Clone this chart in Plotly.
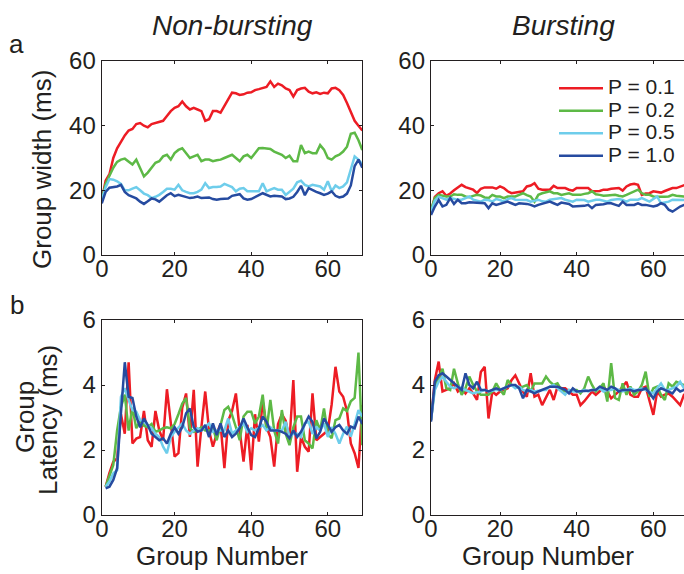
import plotly.graph_objects as go

# ---------------- data ----------------
series_names = ["P = 0.1", "P = 0.2", "P = 0.5", "P = 1.0"]
series_colors = ["#ED1C24", "#5DB946", "#6ECDEB", "#264BA0"]

# Group width, non-bursting (group numbers 1..69)
width_nb_p01 = [17, 23, 25, 30, 33, 35, 37, 38.5, 39, 40.5,
                40.8, 40, 39.5, 40.5, 40.8, 41, 41.5, 43, 44.5, 45.5,
                46, 47.5, 46, 45, 45.5, 45, 44.5, 41.5, 42, 44.5,
                44.5, 44, 46, 48, 50.2, 50, 49.5, 49.7, 50.2, 50.3,
                51, 51.3, 51.6, 52, 53.7, 52, 53, 52.5, 51.5, 51,
                49, 51, 51.5, 51.7, 50.5, 50, 50.3, 49.8, 50.2, 50,
                51.5, 51.7, 51, 49.5, 47, 44, 41.5, 40, 38.5]
width_nb_p02 = [17, 22, 24.5, 27, 28.8, 29.5, 29.8, 29, 28, 29.5,
                27, 24.3, 25.5, 27, 28.5, 29, 30.5, 31, 29.5, 31.5,
                32.5, 33, 31.5, 30, 30.5, 31, 29, 29.5, 29.5, 29,
                29.3, 29.5, 30, 30.5, 31, 30, 29, 30.5, 31, 30,
                31.5, 33, 33.1, 33, 32.8, 32, 31.5, 31, 30, 30.7,
                29, 29, 34, 31.5, 32, 31.5, 31.5, 34, 32.6, 30,
                29.5, 30.5, 31, 32, 33.5, 37.5, 37.8, 35.5, 32.5]
width_nb_p05 = [17, 21, 23.5, 23.3, 22.8, 22, 20, 20, 20.5, 21,
                20, 19, 18.5, 17.6, 18, 18.6, 19.5, 20.5, 20.5, 20.2,
                21.7, 20, 19.5, 19.1, 19.1, 19.5, 20.2, 22.2, 20.7, 21,
                21, 21.2, 22, 21.5, 21, 19.7, 20.5, 20.7, 19.7, 19.7,
                19.7, 19.7, 22.2, 19.7, 20.2, 20.7, 20.2, 20.2, 18.6, 19.5,
                20.5, 22.5, 23, 21.7, 21.2, 21.7, 21.5, 21.2, 20.2, 22.8,
                19.7, 21.5, 20.7, 21.2, 22.5, 26.5, 30.5, 29.5, 28]
width_nb_p10 = [16, 19.5, 20.8, 21, 21.2, 21.7, 19.5, 18.5, 18, 17.5,
                16.5, 15.8, 16.6, 17.5, 17.2, 16.5, 17.5, 18.5, 19.1, 18.2,
                18.6, 18.3, 18.1, 17.6, 17.8, 18.1, 17.6, 17.7, 17.8, 17.3,
                17.1, 17.3, 17.3, 17.5, 18.3, 18.6, 18.8, 17.5, 17.1, 17.3,
                18, 18.5, 19.1, 18.5, 18.1, 18.3, 18.2, 18.1, 17.3, 17.5,
                18, 19.5, 21.4, 18.5, 20.7, 20, 19.5, 19.1, 18.6, 19,
                19.7, 18.3, 17.8, 18.1, 19, 21.5, 27.5, 29.5, 27]

# Group width, bursting (group numbers 2..69)
width_b_p01 = [13.4, 18, 19.1, 19.7, 18.3, 19, 20, 21, 21.7, 21,
               20.5, 20.2, 19.2, 20.5, 20.9, 20.9, 20.9, 20.5, 21.2, 20.7,
               19.7, 19.1, 19.3, 19.3, 19.7, 21.2, 21.5, 22.2, 20.5, 20.2,
               20.2, 20.2, 21.4, 20.7, 20.7, 20.7, 20.2, 19.9, 20.7, 20.7,
               20.7, 20.7, 19.7, 19.7, 19.8, 20.2, 20.2, 20.5, 20.7, 20.7,
               19.9, 21.2, 21.8, 22, 21.7, 18.6, 19, 19.1, 19.7, 19.5,
               19.3, 19.8, 20.2, 20.7, 20.7, 21.2, 21.7, 22]
width_b_p02 = [14, 17.6, 18.6, 18.3, 18.1, 18.1, 18.8, 18.6, 18.6, 18.1,
               17.9, 18.3, 18.6, 18.4, 17.8, 17.6, 18.6, 18.1, 18.1, 17.6,
               18.1, 18.1, 18.1, 18.6, 19.1, 18.5, 18.1, 16.5, 18.6, 19.1,
               19.4, 19.7, 19.1, 19.1, 18.6, 18.8, 19.1, 18.6, 18.6, 18.6,
               18.9, 19.1, 19.7, 18.8, 18.6, 18.3, 18.4, 18.6, 18.6, 18.3,
               18.1, 18.6, 19.1, 19.6, 20.2, 19.1, 18.6, 18.6, 18.1, 18,
               17.9, 18, 18.1, 18.6, 18.3, 18.1, 18.1, 18]
width_b_p05 = [13.4, 16.8, 18, 17.5, 17.1, 17.6, 17.3, 17.1, 17.1, 17.5,
               18.1, 17.1, 16.8, 16.5, 17.1, 17, 16.5, 17.3, 17, 16.5,
               17.3, 17.6, 17.1, 17.1, 17.1, 17, 16.5, 16.8, 17.1, 16.6,
               16.5, 17.1, 17.3, 17.5, 17.6, 17.1, 16.8, 16.5, 17.1, 17.1,
               17, 16.5, 16.8, 17.1, 17.1, 16.8, 16.5, 17, 17.1, 17.3,
               17, 16.5, 17.1, 17.1, 17.1, 17.6, 17.1, 16.5, 17.3, 18.1,
               16, 16.3, 16.5, 17.1, 17.1, 17.1, 17.2, 17]
width_b_p10 = [12.4, 15, 17, 15, 15.5, 17.6, 15.8, 17.1, 16, 16,
               16.3, 16.2, 16, 16, 16, 14.5, 16, 15.5, 15.8, 16,
               16.5, 16, 15.5, 16, 16, 15.8, 15.5, 15, 15.5, 15.8,
               16, 16.5, 16, 15.5, 16.2, 16, 15.8, 15, 15, 15,
               15.2, 15.5, 14.5, 15.5, 15.5, 15.7, 16, 16, 15.6, 15.2,
               16.5, 15.5, 15.5, 15.5, 16, 15.5, 15.5, 15.2, 15, 15.3,
               16, 15.5, 14, 13.4, 14.2, 15, 15.5, 15.5]

# Group latency, non-bursting (group numbers 2..69)
lat_nb_p01 = [0.87, 1.3, 1.64, 1.74, 3.1, 2.5, 4.7, 2.2, 2.35, 2.4,
              3.2, 2.3, 2.1, 3.2, 2.6, 2.3, 3.87, 2.8, 1.8, 1.9,
              3.3, 3.74, 2.4, 3.85, 1.49, 2.7, 3.8, 2.6, 2.1, 2.5,
              2.8, 1.44, 2.9, 3.2, 3.74, 2.6, 1.64, 2.77, 1.38, 3.1,
              2.26, 3.5, 2.7, 2.4, 1.49, 2.8, 3.1, 2.9, 2.3, 4.15,
              1.33, 2.4, 2.1, 1.95, 3.74, 2.3, 2.4, 2.5, 2.6, 3.4,
              4.56, 3.8, 3.64, 3.2, 2.2, 1.9, 1.45, 3.38]
lat_nb_p02 = [0.87, 1.18, 1.54, 2.6, 3.33, 3.7, 2.6, 3.3, 2.67, 2.9,
              2.75, 2.7, 2.8, 2.56, 2.6, 2.67, 2.7, 2.67, 2.8, 3.1,
              3.43, 3.6, 2.67, 2.56, 2.6, 2.7, 2.6, 2.6, 2.67, 2.3,
              2.8, 3.23, 3.33, 3.08, 2.7, 2.3, 3.03, 3.18, 3.18, 2.82,
              3.03, 3.7, 2.6, 3.54, 2.6, 2.2, 3.23, 2.5, 2.15, 2.7,
              3.03, 3.03, 2.3, 2.2, 2.05, 2.92, 2.6, 3.28, 2.5, 2.36,
              2.92, 2.97, 3.28, 3.2, 3.5, 3.6, 5.0, 2.15]
lat_nb_p05 = [0.87, 1.03, 1.28, 1.38, 3.64, 3.9, 3.54, 3.23, 3.18, 2.92,
              2.87, 2.75, 2.67, 2.5, 2.4, 2.1, 1.9, 2.4, 2.56, 2.7,
              2.82, 2.6, 2.5, 2.6, 2.67, 2.6, 2.7, 2.82, 2.56, 2.6,
              2.6, 2.6, 2.97, 2.5, 2.6, 2.7, 2.82, 2.56, 2.67, 2.6,
              2.7, 2.77, 2.6, 2.7, 2.6, 2.6, 2.6, 2.87, 2.4, 2.5,
              2.5, 2.4, 2.82, 2.87, 2.5, 2.7, 2.6, 2.82, 2.4, 2.7,
              2.5, 2.2, 2.5, 2.72, 2.41, 2.8, 3.23, 3.03]
lat_nb_p10 = [0.82, 0.87, 1.08, 1.44, 3.13, 4.7, 3.64, 3.6, 3.03, 2.7,
              2.97, 2.77, 2.5, 2.4, 2.3, 2.36, 2.2, 2.5, 2.7, 2.5,
              2.7, 3.13, 3.28, 2.7, 2.56, 2.6, 2.77, 2.4, 2.82, 2.46,
              2.82, 2.4, 2.6, 2.4, 2.5, 2.67, 2.97, 2.7, 2.46, 2.4,
              2.67, 3.03, 2.87, 2.6, 2.6, 2.6, 2.56, 2.5, 2.36, 2.6,
              2.4, 2.56, 2.8, 3.03, 2.87, 2.36, 2.56, 2.97, 2.77, 2.56,
              2.7, 2.77, 2.6, 2.5, 2.72, 2.67, 3.03, 2.8]

# Group latency, bursting (group numbers 2..69)
lat_b_p01 = [2.92, 4.15, 4.72, 3.8, 3.85, 3.9, 4.05, 3.8, 3.9, 3.74,
             3.9, 3.74, 3.54, 4.4, 4.56, 2.97, 3.8, 3.7, 3.8, 3.85,
             3.9, 4.15, 4.3, 4.05, 3.8, 3.64, 4.36, 3.64, 3.7, 3.38,
             3.6, 3.85, 3.54, 3.95, 3.9, 3.9, 3.8, 3.7, 3.7, 3.38,
             3.5, 3.64, 3.8, 3.7, 3.8, 3.95, 3.8, 3.59, 3.7, 3.8,
             3.95, 4.1, 3.7, 3.64, 3.64, 3.9, 3.95, 3.5, 3.08, 3.8,
             3.64, 3.7, 3.74, 3.64, 3.5, 3.38, 3.7, 3.75]
lat_b_p02 = [2.92, 3.95, 4.2, 4.5, 3.9, 3.85, 4.5, 4.05, 3.7, 3.9,
             4.26, 4, 3.8, 3.7, 3.7, 3.7, 3.8, 4.05, 3.85, 3.7,
             4.15, 4, 3.95, 3.9, 3.95, 4, 3.8, 4.05, 4.05, 4.05,
             4.26, 4.1, 4, 4.05, 3.85, 3.8, 3.8, 3.85, 3.85, 3.74,
             3.9, 4.26, 4, 3.8, 3.9, 4.05, 3.49, 4.67, 3.6, 3.54,
             4.05, 3.7, 3.95, 3.7, 3.8, 4, 4.41, 3.64, 3.9, 3.95,
             3.7, 3.54, 4.05, 3.95, 4.1, 4.05, 4, 4.05]
lat_b_p05 = [2.92, 3.85, 4.1, 4.26, 4.1, 3.95, 3.9, 3.95, 3.9, 3.85,
             3.8, 3.74, 3.78, 3.8, 3.85, 3.8, 3.82, 3.85, 3.85, 3.9,
             3.95, 4, 3.9, 3.95, 3.85, 3.8, 3.85, 3.8, 3.82, 3.85,
             3.85, 3.95, 4, 3.9, 3.8, 3.7, 3.85, 3.8, 3.8, 3.8,
             3.85, 3.8, 3.85, 3.85, 3.9, 3.8, 3.85, 3.85, 3.9, 3.85,
             3.8, 3.85, 3.9, 3.85, 3.85, 3.9, 3.85, 3.8, 3.74, 3.9,
             4.05, 3.85, 3.85, 3.9, 3.95, 4.1, 3.9, 3.9]
lat_b_p10 = [2.87, 4.1, 4.3, 4.36, 4.26, 4.15, 4.05, 3.95, 3.85, 4.36,
             4, 3.9, 4.1, 3.85, 3.85, 3.8, 3.85, 3.9, 3.85, 3.9,
             3.95, 4, 4, 3.9, 3.59, 3.85, 3.8, 3.74, 3.8, 3.85,
             3.9, 3.95, 3.95, 3.95, 3.9, 3.85, 3.74, 3.9, 3.8, 3.8,
             3.8, 3.82, 3.85, 3.85, 3.95, 3.9, 3.85, 3.95, 3.9, 3.8,
             3.85, 3.85, 3.85, 3.8, 3.85, 3.85, 3.9, 3.75, 3.59, 3.8,
             3.9, 3.85, 3.8, 3.74, 3.9, 3.8, 3.85, 3.85]

first_group = {"width_nb": 1, "width_b": 2, "lat_nb": 2, "lat_b": 2}

width_ticks = [0, 20, 40, 60]
latency_ticks = [0, 2, 4, 6]
group_tick_labels = ["0", "20", "40", "60"]

# ---------------- figure ----------------
INK = "#231F20"
FONT = "Liberation Sans, Arial, Helvetica, sans-serif"

panels = [
    ("width_nb", [width_nb_p01, width_nb_p02, width_nb_p05, width_nb_p10], "x", "y", False),
    ("width_b", [width_b_p01, width_b_p02, width_b_p05, width_b_p10], "x2", "y2", True),
    ("lat_nb", [lat_nb_p01, lat_nb_p02, lat_nb_p05, lat_nb_p10], "x3", "y3", False),
    ("lat_b", [lat_b_p01, lat_b_p02, lat_b_p05, lat_b_p10], "x4", "y4", False),
]

fig = go.Figure()
for key, sets, xa, ya, show in panels:
    start = first_group[key]
    for name, color, vals in zip(series_names, series_colors, sets):
        fig.add_trace(go.Scatter(
            x=list(range(start, start + len(vals))), y=vals,
            mode="lines", legendgroup=name, showlegend=show,
            name='<span style="font-size:21px">%s</span>' % name,
            line=dict(color=color, width=2.5),
            xaxis=xa, yaxis=ya, cliponaxis=True,
        ))

W, H = 684, 574
def px(v):
    return v / W
def py(v):
    return 1 - v / H

axis_common = dict(
    showline=True, linecolor=INK, linewidth=1.4,
    ticks="inside", ticklen=3, tickwidth=1, tickcolor=INK,
    showgrid=False, zeroline=False, automargin=False,
    tickfont=dict(family=FONT, size=24, color=INK),
)
xaxis_common = dict(axis_common, ticklabelstandoff=-8)

left_dom = [px(101.8), px(362.3)]
right_dom = [px(431), 1.0]
top_dom = [py(255), py(61)]
bot_dom = [py(515), py(320)]

fig.update_layout(
    width=W, height=H,
    margin=dict(l=0, r=0, t=0, b=0, pad=0, autoexpand=False),
    paper_bgcolor="white", plot_bgcolor="white",
    font=dict(family=FONT, color=INK),
    xaxis=dict(xaxis_common, domain=left_dom, anchor="y", range=[1, 69],
               tickvals=[1, 20, 40, 60], ticktext=group_tick_labels, mirror="ticks"),
    yaxis=dict(axis_common, domain=top_dom, anchor="x", range=[0, 60],
               tickvals=width_ticks, mirror="ticks"),
    xaxis2=dict(xaxis_common, domain=right_dom, anchor="y2", range=[2, 68],
                tickvals=[2, 20, 40, 60], ticktext=group_tick_labels, mirror="ticks"),
    yaxis2=dict(axis_common, domain=top_dom, anchor="x2", range=[0, 60],
                tickvals=width_ticks, mirror=False),
    xaxis3=dict(xaxis_common, domain=left_dom, anchor="y3", range=[1, 69],
                tickvals=[1, 20, 40, 60], ticktext=group_tick_labels, mirror="ticks"),
    yaxis3=dict(axis_common, domain=bot_dom, anchor="x3", range=[0, 6],
                tickvals=latency_ticks, mirror="ticks"),
    xaxis4=dict(xaxis_common, domain=right_dom, anchor="y4", range=[2, 68],
                tickvals=[2, 20, 40, 60], ticktext=group_tick_labels, mirror="ticks"),
    yaxis4=dict(axis_common, domain=bot_dom, anchor="x4", range=[0, 6],
                tickvals=latency_ticks, mirror=False),
    legend=dict(x=px(554), y=py(72), xanchor="left", yanchor="top",
                bgcolor="rgba(0,0,0,0)", borderwidth=0,
                font=dict(family=FONT, size=15, color=INK),
                itemwidth=44, tracegroupgap=0),
    showlegend=True,
)

def ann(text, x, y, size, angle=0, italic=False):
    fig.add_annotation(
        text=text, x=px(x), y=py(y), xref="paper", yref="paper",
        xanchor="center", yanchor="middle", showarrow=False, textangle=angle,
        font=dict(family=FONT, size=size, color=INK,
                  style="italic" if italic else "normal"),
    )

ann("Non-bursting", 232, 26, 28, italic=True)
ann("Bursting", 563, 26, 28, italic=True)
ann("a", 16, 44, 26)
ann("b", 17, 305, 26)
ann("Group width (ms)", 42, 170, 26, angle=-90)
ann("Group", 25, 417, 26, angle=-90)
ann("Latency (ms)", 48, 420, 26, angle=-90)
ann("Group Number", 222, 556, 26)
ann("Group Number", 548, 556, 26)

fig.write_html("out.html", config={"displayModeBar": False},
               post_script="document.body.style.margin='0px';")
